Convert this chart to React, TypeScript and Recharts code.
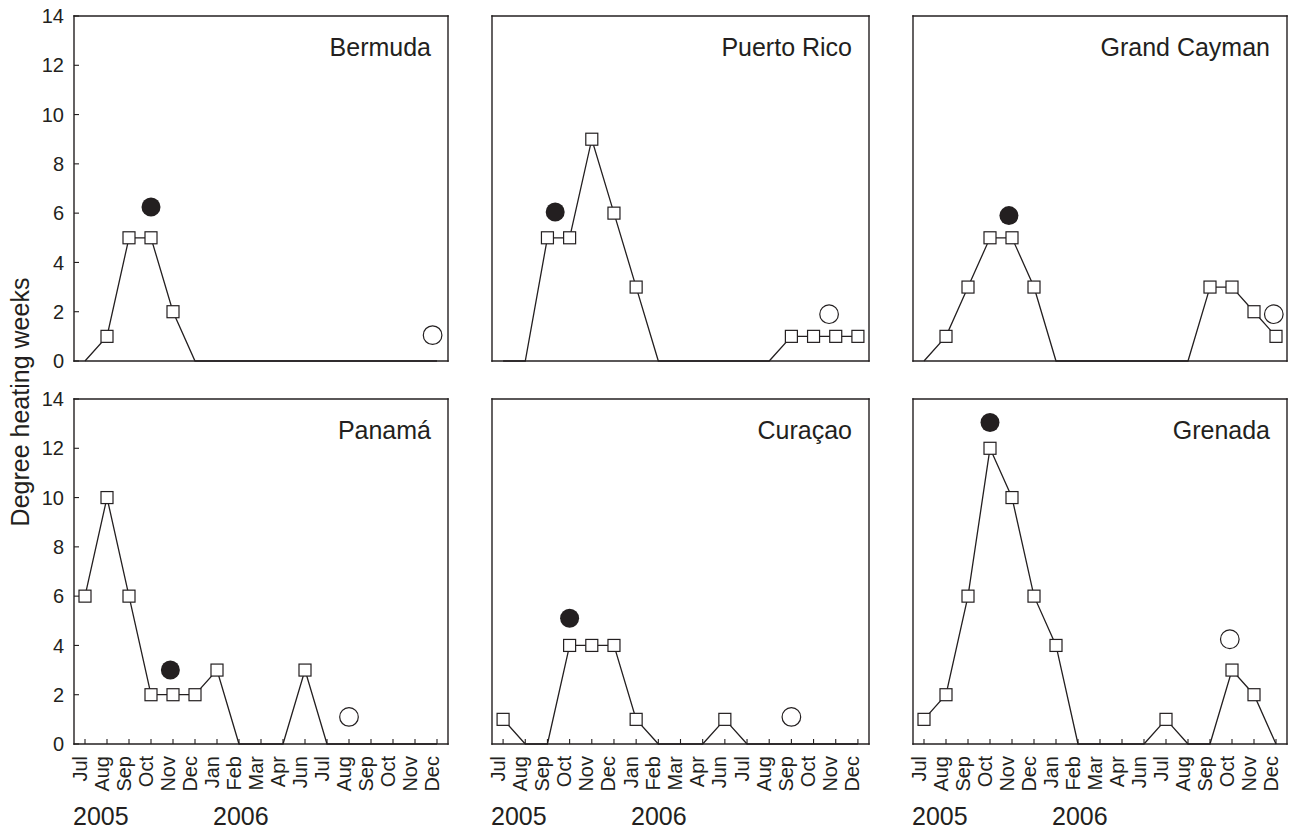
import { ComposedChart, Line, Scatter, XAxis, YAxis } from "recharts";

const INK = "#231f20";
const FONT = '"Liberation Sans", Arial, Helvetica, sans-serif';

// month ticks as printed on the original axis (there is no May)
const MONTHS = ["Jul", "Aug", "Sep", "Oct", "Nov", "Dec", "Jan", "Feb", "Mar", "Apr", "Jun", "Jul", "Aug", "Sep", "Oct", "Nov", "Dec"];
const MONTH_IDX = MONTHS.map((_, i) => i);
const DHW_TICKS = [0, 2, 4, 6, 8, 10, 12, 14];
const YEARS = ["2005", "2006"];

const SITES = ["Bermuda", "Puerto Rico", "Grand Cayman", "Panamá", "Curaçao", "Grenada"];

// monthly degree heating weeks (open squares)
const BERMUDA = [0, 1, 5, 5, 2, 0, 0, 0, 0, 0, 0, 0, 0, 0, 0, 0, 0];
const PUERTO_RICO = [0, 0, 5, 5, 9, 6, 3, 0, 0, 0, 0, 0, 0, 1, 1, 1, 1];
const GRAND_CAYMAN = [0, 1, 3, 5, 5, 3, 0, 0, 0, 0, 0, 0, 0, 3, 3, 2, 1];
const PANAMA = [6, 10, 6, 2, 2, 2, 3, 0, 0, 0, 3, 0, 0, 0, 0, 0, 0];
const CURACAO = [1, 0, 0, 4, 4, 4, 1, 0, 0, 0, 1, 0, 0, 0, 0, 0, 0];
const GRENADA = [1, 2, 6, 12, 10, 6, 4, 0, 0, 0, 0, 1, 0, 0, 3, 2, 0];
const SERIES = [BERMUDA, PUERTO_RICO, GRAND_CAYMAN, PANAMA, CURACAO, GRENADA];

// filled circles (x in month-tick units)
const FILLED_X = [3, 2.35, 3.86, 3.88, 3, 3];
const FILLED_Y = [6.25, 6.05, 5.9, 3.0, 5.1, 13.05];
// open circles
const OPEN_X = [15.8, 14.7, 15.9, 12, 13, 13.9];
const OPEN_Y = [1.05, 1.9, 1.9, 1.1, 1.1, 4.25];

const PLOT_LEFT = [74, 492, 913];
const PLOT_W = [374, 377, 374];
const PLOT_TOP = [16, 399];
const PLOT_H = 345;
const AXIS_W = 60;
const AXIS_H = 60;

const MonthTick = ({ x, y, payload }: any) => (
  <text
    x={x}
    y={y}
    dy={1.5}
    transform={`rotate(-90 ${x} ${y})`}
    textAnchor="end"
    fontSize={20}
    fill={INK}
  >
    {MONTHS[payload.value]}
  </text>
);

const squareDot = (p: any) =>
  p.payload.y > 0 ? (
    <rect key={p.index} x={p.cx - 6} y={p.cy - 6} width={12} height={12} fill="#fff" stroke={INK} strokeWidth={1.2} />
  ) : (
    <g key={p.index} />
  );

const frame = { stroke: INK, strokeWidth: 1.4, strokeLinecap: "square" as const };
const tickLn = { stroke: INK, strokeWidth: 1.1 };

function Panel({ idx }: { idx: number }) {
  const col = idx % 3;
  const row = Math.floor(idx / 3);
  const w = PLOT_W[col];
  const data = SERIES[idx].map((y, i) => ({ x: i, y }));

  return (
    <div style={{ position: "absolute", left: PLOT_LEFT[col] - AXIS_W, top: PLOT_TOP[row] - 10 }}>
      <ComposedChart
        width={AXIS_W + w + 5}
        height={10 + PLOT_H + AXIS_H}
        data={data}
        margin={{ top: 9, right: 4, bottom: 0, left: 0 }}
      >
        <XAxis
          xAxisId="b"
          dataKey="x"
          type="number"
          domain={[-0.5, 16.5]}
          ticks={MONTH_IDX}
          interval={0}
          height={AXIS_H}
          stroke={INK}
          axisLine={frame}
          tickLine={tickLn}
          tickSize={-5}
          tickMargin={17}
          tick={row === 1 ? MonthTick : false}
        />
        <XAxis
          xAxisId="t"
          orientation="top"
          dataKey="x"
          type="number"
          domain={[-0.5, 16.5]}
          ticks={MONTH_IDX}
          interval={0}
          height={1}
          stroke={INK}
          axisLine={frame}
          tickLine={tickLn}
          tickSize={-5}
          tick={false}
        />
        <YAxis
          yAxisId="l"
          dataKey="y"
          type="number"
          domain={[0, 14]}
          ticks={DHW_TICKS}
          interval={0}
          width={AXIS_W}
          stroke={INK}
          axisLine={frame}
          tickLine={tickLn}
          tickSize={-5}
          tickMargin={15}
          tick={col === 0 ? { fontSize: 20, fill: INK } : false}
        />
        <YAxis
          yAxisId="r"
          orientation="right"
          dataKey="y"
          type="number"
          domain={[0, 14]}
          ticks={DHW_TICKS}
          interval={0}
          width={1}
          stroke={INK}
          axisLine={frame}
          tickLine={tickLn}
          tickSize={-5}
          tick={false}
        />
        <Line
          xAxisId="b"
          yAxisId="l"
          dataKey="y"
          type="linear"
          stroke={INK}
          strokeWidth={1.3}
          dot={squareDot}
          activeDot={false}
          isAnimationActive={false}
        />
        <Scatter
          xAxisId="b"
          yAxisId="l"
          data={[{ x: FILLED_X[idx], y: FILLED_Y[idx] }]}
          shape={(p: any) => <circle cx={p.cx} cy={p.cy} r={9.5} fill={INK} />}
          isAnimationActive={false}
        />
        <Scatter
          xAxisId="b"
          yAxisId="l"
          data={[{ x: OPEN_X[idx], y: OPEN_Y[idx] }]}
          shape={(p: any) => <circle cx={p.cx} cy={p.cy} r={9.3} fill="#fff" stroke={INK} strokeWidth={1.2} />}
          isAnimationActive={false}
        />
      </ComposedChart>
    </div>
  );
}

export default function App() {
  return (
    <div
      style={{
        position: "absolute",
        left: 0,
        top: 0,
        width: 1294,
        height: 832,
        overflow: "hidden",
        background: "#fff",
        fontFamily: FONT,
      }}
    >
      {SITES.map((_, i) => (
        <Panel key={i} idx={i} />
      ))}
      <svg
        width={1294}
        height={832}
        style={{ position: "absolute", left: 0, top: 0, pointerEvents: "none", fontFamily: FONT }}
      >
        {SITES.map((name, i) => {
          const col = i % 3;
          const row = Math.floor(i / 3);
          return (
            <text
              key={name}
              x={PLOT_LEFT[col] + PLOT_W[col] - 17}
              y={PLOT_TOP[row] + 40}
              textAnchor="end"
              fontSize={25}
              fill={INK}
            >
              {name}
            </text>
          );
        })}
        {PLOT_LEFT.map((left, c) => (
          <g key={c}>
            <text x={left - 1} y={825} fontSize={25} fill={INK}>
              {YEARS[0]}
            </text>
            <text x={left + 139} y={825} fontSize={25} fill={INK}>
              {YEARS[1]}
            </text>
          </g>
        ))}
        <text x={29} y={402} transform="rotate(-90 29 402)" textAnchor="middle" fontSize={25} fill={INK}>
          Degree heating weeks
        </text>
      </svg>
    </div>
  );
}
